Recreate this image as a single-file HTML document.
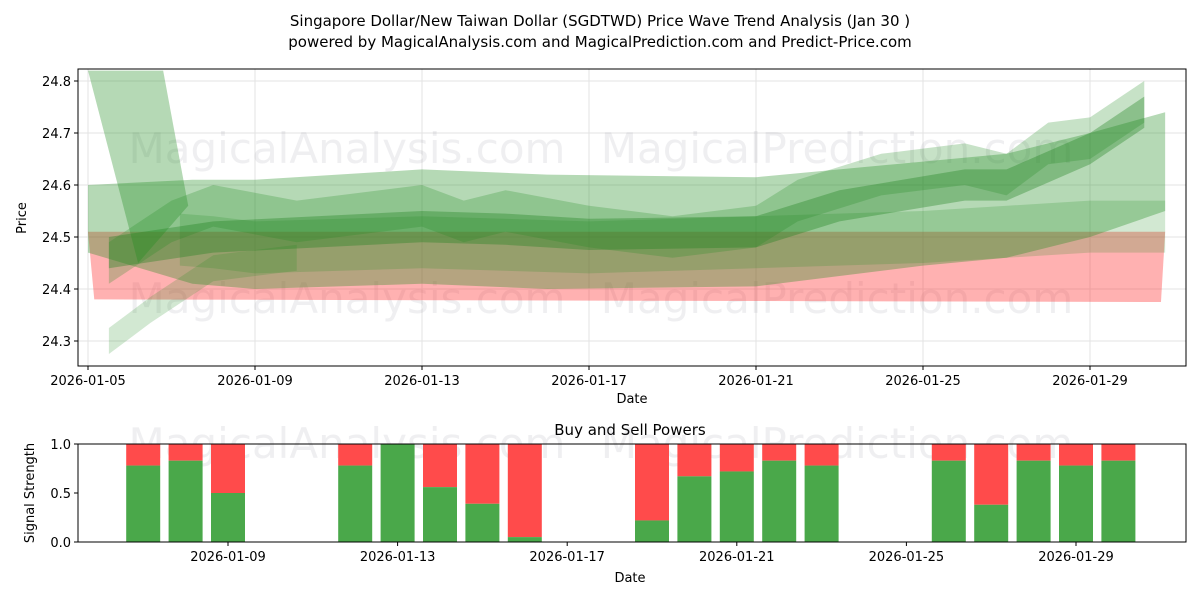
<!DOCTYPE html>
<html><head><meta charset="utf-8"><style>
body{margin:0;background:#fff;font-family:"Liberation Sans","DejaVu Sans",sans-serif}
svg text{font-family:"DejaVu Sans","Liberation Sans",sans-serif;fill:#000}
</style></head><body>
<svg id="c" width="1200" height="600" xmlns="http://www.w3.org/2000/svg"></svg>
<script>
// ---- data ----
const yTicks=[24.3,24.4,24.5,24.6,24.7,24.8];
const xTickDays=[5,9,13,17,21,25,29];
const xTickLabels=["2026-01-05","2026-01-09","2026-01-13","2026-01-17","2026-01-21","2026-01-25","2026-01-29"];
const redDays=[5.0,30.8];
const redTop=[24.51,24.51];
const redBottom=[24.38,24.375];
const bandADays=[5,7.5,9,13,16,21,25,27,29,30.8];
const bandAVals=[24.535,24.51,24.505,24.52,24.51,24.51,24.545,24.56,24.60,24.645];
const bandAHalf=[0.065,0.1,0.105,0.11,0.11,0.105,0.1,0.1,0.1,0.095];
const bandBDays=[5.5,8,13,15,17,21,23,26,27,29,30.3];
const bandBVals=[24.47,24.50,24.52,24.515,24.505,24.51,24.56,24.60,24.60,24.67,24.74];
const bandCDays=[5.5,7,8,10,13,14,15,17,19,21,22,24,26,27,28,29,30.3];
const bandCVals=[24.45,24.53,24.56,24.53,24.56,24.53,24.55,24.52,24.50,24.52,24.57,24.62,24.64,24.62,24.68,24.69,24.76];
const bandDDays=[5.5,6.5,8,10];
const bandDVals=[24.30,24.36,24.44,24.46];
const bandEDays=[7.2,8,9,13,17,21,25,29,30.8];
const bandEVals=[24.495,24.49,24.48,24.49,24.48,24.49,24.50,24.52,24.52];
const stripTopDays=[5.0,6.8];
const stripTopVal=24.82;
const stripBottomDays=[6.2,7.4];
const stripBottomVals=[24.45,24.56];
const barDays=[7,8,9,12,13,14,15,16,19,20,21,22,23,26,27,28,29,30];
const buyVals=[0.78,0.83,0.5,0.78,1.0,0.56,0.39,0.05,0.22,0.67,0.72,0.83,0.78,0.83,0.38,0.83,0.78,0.83];
const sTicks=[0,0.5,1.0];
const bTickDays=[9,13,17,21,25,29];

const svg=document.getElementById('c');const NS='http://www.w3.org/2000/svg';
function el(t,a,txt){const e=document.createElementNS(NS,t);for(const k in a)e.setAttribute(k,a[k]);if(txt!=null)e.textContent=txt;svg.appendChild(e);return e;}
const L=78,R=1186,T=69,B=366;
const X=d=>88+(d-5)*41.75;
const Y=v=>289-(v-24.4)*520;
const bL=78,bR=1186,bT=444,bB=542;
const BX=d=>228+(d-9)*42.4;
const BY=v=>bB-v*98;

let t;
t=el('text',{x:600,y:26,'text-anchor':'middle','font-size':15},'Singapore Dollar/New Taiwan Dollar (SGDTWD) Price Wave Trend Analysis (Jan 30 )');

t=el('text',{x:600,y:47,'text-anchor':'middle','font-size':15},'powered by MagicalAnalysis.com and MagicalPrediction.com and Predict-Price.com');


yTicks.forEach(v=>{el('line',{x1:L,x2:R,y1:Y(v),y2:Y(v),stroke:'#e3e3e3'});el('line',{x1:L-4,x2:L,y1:Y(v),y2:Y(v),stroke:'#000'});
 const tx=el('text',{x:L-7,y:Y(v)+5,'text-anchor':'end','font-size':13},v.toFixed(1));});
xTickDays.forEach((d,i)=>{el('line',{x1:X(d),x2:X(d),y1:T,y2:B,stroke:'#e3e3e3'});el('line',{x1:X(d),x2:X(d),y1:B,y2:B+4,stroke:'#000'});
 const tx=el('text',{x:X(d),y:B+19,'text-anchor':'middle','font-size':13},xTickLabels[i]);});

[[347,148],[837,148],[347,298],[837,298]].forEach((p,i)=>{const w=el('text',{x:p[0],y:p[1]+15,'text-anchor':'middle','font-size':42,style:'fill:rgba(120,120,140,0.12)'},i%2?'MagicalPrediction.com':'MagicalAnalysis.com');});

const g=document.createElementNS(NS,'g');svg.appendChild(g);
function poly(pts,fill,name){const p=document.createElementNS(NS,'polygon');p.setAttribute('points',pts.join(' '));p.setAttribute('fill',fill);
 g.appendChild(p);}
function band(days,vals,hw,fill,name){
 const h=i=>Array.isArray(hw)?hw[i]:hw;
 const up=days.map((d,i)=>X(d)+','+Y(vals[i]+h(i)));
 const dn=days.map((d,i)=>X(d)+','+Y(vals[i]-h(i))).reverse();
 poly(up.concat(dn),fill,name);}
poly([X(redDays[0])+','+Y(redTop[0]),X(redDays[1])+','+Y(redTop[1]),X(redDays[1]-0.1)+','+Y(redBottom[1]),X(redDays[0]+0.15)+','+Y(redBottom[0])],'rgba(255,60,60,0.4)','sell-wave-band');
band(bandADays,bandAVals,bandAHalf,'rgba(30,140,30,0.33)','wave-band-wide');
band(bandEDays,bandEVals,0.05,'rgba(30,140,30,0.2)','wave-band-lower');
band(bandDDays,bandDVals,0.025,'rgba(30,140,30,0.2)','wave-band-left');
band(bandCDays,bandCVals,0.04,'rgba(30,140,30,0.25)','wave-band-mid');
band(bandBDays,bandBVals,0.03,'rgba(30,130,30,0.35)','wave-band-core');
poly([X(stripTopDays[0])+','+Y(stripTopVal),X(stripTopDays[1])+','+Y(stripTopVal),X(stripBottomDays[1])+','+Y(stripBottomVals[1]),X(stripBottomDays[0])+','+Y(stripBottomVals[0])],'rgba(30,140,30,0.33)','wave-band-drop');
const clip=el('clipPath',{id:'cp'});const cr=document.createElementNS(NS,'rect');cr.setAttribute('x',L);cr.setAttribute('y',T);cr.setAttribute('width',R-L);cr.setAttribute('height',B-T);clip.appendChild(cr);
g.setAttribute('clip-path','url(#cp)');
let r=el('rect',{x:L,y:T,width:R-L,height:B-T,fill:'none',stroke:'#000'});
t=el('text',{x:632,y:403,'text-anchor':'middle','font-size':13},'Date');
t=el('text',{x:26,y:218,'text-anchor':'middle','font-size':13,transform:'rotate(-90 26 218)'},'Price');

t=el('text',{x:630,y:435,'text-anchor':'middle','font-size':15},'Buy and Sell Powers');
[[347,430],[837,430]].forEach((p,i)=>{const w=el('text',{x:p[0],y:p[1]+28,'text-anchor':'middle','font-size':42,style:'fill:rgba(120,120,140,0.12)'},i?'MagicalPrediction.com':'MagicalAnalysis.com');});
barDays.forEach((d,i)=>{const x=BX(d)-17;
 const s=el('rect',{x:x,y:BY(1),width:34,height:BY(buyVals[i])-BY(1),fill:'#ff4b4b'});
 const b=el('rect',{x:x,y:BY(buyVals[i]),width:34,height:BY(0)-BY(buyVals[i]),fill:'#4aa84a'});});
sTicks.forEach(v=>{el('line',{x1:bL-4,x2:bL,y1:BY(v),y2:BY(v),stroke:'#000'});const tx=el('text',{x:bL-7,y:BY(v)+5,'text-anchor':'end','font-size':13},v.toFixed(1));});
bTickDays.forEach(d=>{el('line',{x1:BX(d),x2:BX(d),y1:bB,y2:bB+4,stroke:'#000'});const tx=el('text',{x:BX(d),y:bB+19,'text-anchor':'middle','font-size':13},'2026-01-'+String(d).padStart(2,'0'));});
r=el('rect',{x:bL,y:bT,width:bR-bL,height:bB-bT,fill:'none',stroke:'#000'});
t=el('text',{x:630,y:582,'text-anchor':'middle','font-size':13},'Date');
t=el('text',{x:34,y:493,'text-anchor':'middle','font-size':13,transform:'rotate(-90 34 493)'},'Signal Strength');
</script>
</body></html>
